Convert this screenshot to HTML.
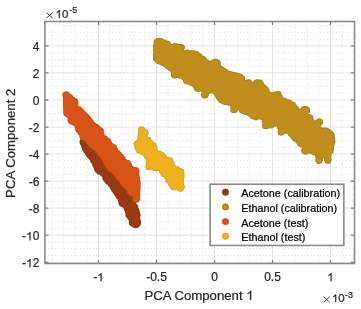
<!DOCTYPE html>
<html><head><meta charset="utf-8"><style>
html,body{margin:0;padding:0;background:#fff;}
body{width:361px;height:309px;overflow:hidden;}
text{stroke-width:0.22px;} svg{display:block;will-change:transform;font-family:"Liberation Sans",sans-serif;}
</style></head><body>
<svg width="361" height="309" viewBox="0 0 361 309">
<rect width="361" height="309" fill="#fff"/>
<path d="M52.10,21.5V263.5M63.70,21.5V263.5M75.30,21.5V263.5M86.90,21.5V263.5M110.10,21.5V263.5M121.70,21.5V263.5M133.30,21.5V263.5M144.90,21.5V263.5M168.10,21.5V263.5M179.70,21.5V263.5M191.30,21.5V263.5M202.90,21.5V263.5M226.10,21.5V263.5M237.70,21.5V263.5M249.30,21.5V263.5M260.90,21.5V263.5M284.10,21.5V263.5M295.70,21.5V263.5M307.30,21.5V263.5M318.90,21.5V263.5M342.10,21.5V263.5M44.9,255.49H354.5M44.9,248.73H354.5M44.9,241.96H354.5M44.9,228.44H354.5M44.9,221.68H354.5M44.9,214.91H354.5M44.9,201.39H354.5M44.9,194.62H354.5M44.9,187.86H354.5M44.9,174.34H354.5M44.9,167.57H354.5M44.9,160.81H354.5M44.9,147.29H354.5M44.9,140.53H354.5M44.9,133.76H354.5M44.9,120.24H354.5M44.9,113.48H354.5M44.9,106.71H354.5M44.9,93.19H354.5M44.9,86.42H354.5M44.9,79.66H354.5M44.9,66.14H354.5M44.9,59.38H354.5M44.9,52.61H354.5M44.9,39.09H354.5M44.9,32.33H354.5M44.9,25.56H354.5" stroke="#d8d8d8" stroke-width="0.8" stroke-dasharray="1,2.2" fill="none"/>
<path d="M98.50,21.5V263.5M156.50,21.5V263.5M214.50,21.5V263.5M272.50,21.5V263.5M330.50,21.5V263.5M44.9,262.25H354.5M44.9,235.20H354.5M44.9,208.15H354.5M44.9,181.10H354.5M44.9,154.05H354.5M44.9,127.00H354.5M44.9,99.95H354.5M44.9,72.90H354.5M44.9,45.85H354.5" stroke="#e4e4e4" stroke-width="1" fill="none"/>
<g fill="#85330f"><circle cx="83.3" cy="142.3" r="3.3"/><circle cx="84.0" cy="142.0" r="3.3"/><circle cx="84.0" cy="144.1" r="3.3"/><circle cx="84.6" cy="146.0" r="3.3"/><circle cx="85.2" cy="148.1" r="3.3"/><circle cx="86.5" cy="150.6" r="3.3"/><circle cx="88.3" cy="153.3" r="3.3"/><circle cx="90.0" cy="155.5" r="3.3"/><circle cx="91.7" cy="157.2" r="3.3"/><circle cx="93.4" cy="160.5" r="3.3"/><circle cx="95.5" cy="164.5" r="3.3"/><circle cx="97.0" cy="167.6" r="3.3"/><circle cx="97.7" cy="169.5" r="3.3"/><circle cx="99.6" cy="171.4" r="3.3"/><circle cx="103.3" cy="173.7" r="3.3"/><circle cx="105.6" cy="178.1" r="3.3"/><circle cx="107.0" cy="179.7" r="3.3"/><circle cx="108.4" cy="181.4" r="3.3"/><circle cx="111.1" cy="184.1" r="3.3"/><circle cx="112.9" cy="186.9" r="3.3"/><circle cx="114.3" cy="189.2" r="3.3"/><circle cx="115.8" cy="191.3" r="3.3"/><circle cx="117.4" cy="193.7" r="3.3"/><circle cx="119.1" cy="196.3" r="3.3"/><circle cx="121.0" cy="199.3" r="3.3"/><circle cx="121.8" cy="202.1" r="3.3"/><circle cx="121.9" cy="203.3" r="3.3"/><circle cx="123.0" cy="203.8" r="3.3"/><circle cx="125.7" cy="205.7" r="3.3"/><circle cx="127.1" cy="208.8" r="3.3"/><circle cx="128.3" cy="211.6" r="3.3"/><circle cx="128.8" cy="215.0" r="3.3"/><circle cx="130.4" cy="216.9" r="3.3"/><circle cx="132.0" cy="219.8" r="3.3"/><circle cx="132.2" cy="222.9" r="3.3"/><circle cx="134.3" cy="224.3" r="3.3"/><circle cx="135.8" cy="224.9" r="3.3"/><circle cx="136.2" cy="224.2" r="3.3"/><circle cx="137.2" cy="223.9" r="3.3"/><circle cx="137.8" cy="222.4" r="3.3"/><circle cx="137.1" cy="219.6" r="3.3"/><circle cx="137.3" cy="215.2" r="3.3"/><circle cx="136.7" cy="213.2" r="3.3"/><circle cx="136.1" cy="210.7" r="3.3"/><circle cx="135.0" cy="207.3" r="3.3"/><circle cx="133.1" cy="204.3" r="3.3"/><circle cx="131.5" cy="200.9" r="3.3"/><circle cx="130.0" cy="197.8" r="3.3"/><circle cx="128.5" cy="194.6" r="3.3"/><circle cx="127.2" cy="191.8" r="3.3"/><circle cx="124.9" cy="188.9" r="3.3"/><circle cx="122.4" cy="185.8" r="3.3"/><circle cx="119.9" cy="182.7" r="3.3"/><circle cx="117.4" cy="179.6" r="3.3"/><circle cx="114.9" cy="176.4" r="3.3"/><circle cx="112.4" cy="173.3" r="3.3"/><circle cx="109.9" cy="170.2" r="3.3"/><circle cx="107.5" cy="167.2" r="3.3"/><circle cx="104.8" cy="164.5" r="3.3"/><circle cx="102.0" cy="161.6" r="3.3"/><circle cx="99.1" cy="158.8" r="3.3"/><circle cx="96.2" cy="155.9" r="3.3"/><circle cx="93.4" cy="153.0" r="3.3"/><circle cx="90.5" cy="150.2" r="3.3"/><circle cx="87.7" cy="147.3" r="3.3"/><circle cx="84.7" cy="144.3" r="3.3"/><circle cx="82.8" cy="142.1" r="3.3"/></g><g fill="#983a12"><path d="M83.3,142.3 L84.0,142.0 L84.0,144.1 L84.6,146.0 L85.2,148.1 L86.5,150.6 L88.3,153.3 L90.0,155.5 L91.7,157.2 L93.4,160.5 L95.5,164.5 L97.0,167.6 L97.7,169.5 L99.6,171.4 L103.3,173.7 L105.6,178.1 L107.0,179.7 L108.4,181.4 L111.1,184.1 L112.9,186.9 L114.3,189.2 L115.8,191.3 L117.4,193.7 L119.1,196.3 L121.0,199.3 L121.8,202.1 L121.9,203.3 L123.0,203.8 L125.7,205.7 L127.1,208.8 L128.3,211.6 L128.8,215.0 L130.4,216.9 L132.0,219.8 L132.2,222.9 L134.3,224.3 L135.8,224.9 L136.2,224.2 L137.2,223.9 L137.8,222.4 L137.1,219.6 L137.3,215.2 L136.7,213.2 L136.1,210.7 L135.0,207.3 L133.1,204.3 L131.5,200.9 L130.0,197.8 L128.5,194.6 L127.2,191.8 L124.9,188.9 L122.4,185.8 L119.9,182.7 L117.4,179.6 L114.9,176.4 L112.4,173.3 L109.9,170.2 L107.5,167.2 L104.8,164.5 L102.0,161.6 L99.1,158.8 L96.2,155.9 L93.4,153.0 L90.5,150.2 L87.7,147.3 L84.7,144.3 L82.8,142.1Z"/><circle cx="83.3" cy="142.3" r="2.60"/><circle cx="84.0" cy="142.0" r="2.60"/><circle cx="84.0" cy="144.1" r="2.60"/><circle cx="84.6" cy="146.0" r="2.60"/><circle cx="85.2" cy="148.1" r="2.60"/><circle cx="86.5" cy="150.6" r="2.60"/><circle cx="88.3" cy="153.3" r="2.60"/><circle cx="90.0" cy="155.5" r="2.60"/><circle cx="91.7" cy="157.2" r="2.60"/><circle cx="93.4" cy="160.5" r="2.60"/><circle cx="95.5" cy="164.5" r="2.60"/><circle cx="97.0" cy="167.6" r="2.60"/><circle cx="97.7" cy="169.5" r="2.60"/><circle cx="99.6" cy="171.4" r="2.60"/><circle cx="103.3" cy="173.7" r="2.60"/><circle cx="105.6" cy="178.1" r="2.60"/><circle cx="107.0" cy="179.7" r="2.60"/><circle cx="108.4" cy="181.4" r="2.60"/><circle cx="111.1" cy="184.1" r="2.60"/><circle cx="112.9" cy="186.9" r="2.60"/><circle cx="114.3" cy="189.2" r="2.60"/><circle cx="115.8" cy="191.3" r="2.60"/><circle cx="117.4" cy="193.7" r="2.60"/><circle cx="119.1" cy="196.3" r="2.60"/><circle cx="121.0" cy="199.3" r="2.60"/><circle cx="121.8" cy="202.1" r="2.60"/><circle cx="121.9" cy="203.3" r="2.60"/><circle cx="123.0" cy="203.8" r="2.60"/><circle cx="125.7" cy="205.7" r="2.60"/><circle cx="127.1" cy="208.8" r="2.60"/><circle cx="128.3" cy="211.6" r="2.60"/><circle cx="128.8" cy="215.0" r="2.60"/><circle cx="130.4" cy="216.9" r="2.60"/><circle cx="132.0" cy="219.8" r="2.60"/><circle cx="132.2" cy="222.9" r="2.60"/><circle cx="134.3" cy="224.3" r="2.60"/><circle cx="135.8" cy="224.9" r="2.60"/><circle cx="136.2" cy="224.2" r="2.60"/><circle cx="137.2" cy="223.9" r="2.60"/><circle cx="137.8" cy="222.4" r="2.60"/><circle cx="137.1" cy="219.6" r="2.60"/><circle cx="137.3" cy="215.2" r="2.60"/><circle cx="136.7" cy="213.2" r="2.60"/><circle cx="136.1" cy="210.7" r="2.60"/><circle cx="135.0" cy="207.3" r="2.60"/><circle cx="133.1" cy="204.3" r="2.60"/><circle cx="131.5" cy="200.9" r="2.60"/><circle cx="130.0" cy="197.8" r="2.60"/><circle cx="128.5" cy="194.6" r="2.60"/><circle cx="127.2" cy="191.8" r="2.60"/><circle cx="124.9" cy="188.9" r="2.60"/><circle cx="122.4" cy="185.8" r="2.60"/><circle cx="119.9" cy="182.7" r="2.60"/><circle cx="117.4" cy="179.6" r="2.60"/><circle cx="114.9" cy="176.4" r="2.60"/><circle cx="112.4" cy="173.3" r="2.60"/><circle cx="109.9" cy="170.2" r="2.60"/><circle cx="107.5" cy="167.2" r="2.60"/><circle cx="104.8" cy="164.5" r="2.60"/><circle cx="102.0" cy="161.6" r="2.60"/><circle cx="99.1" cy="158.8" r="2.60"/><circle cx="96.2" cy="155.9" r="2.60"/><circle cx="93.4" cy="153.0" r="2.60"/><circle cx="90.5" cy="150.2" r="2.60"/><circle cx="87.7" cy="147.3" r="2.60"/><circle cx="84.7" cy="144.3" r="2.60"/><circle cx="82.8" cy="142.1" r="2.60"/></g>
<g fill="#a77c17"><circle cx="157.1" cy="42.2" r="3.3"/><circle cx="157.0" cy="42.0" r="3.3"/><circle cx="157.9" cy="41.3" r="3.3"/><circle cx="160.6" cy="41.3" r="3.3"/><circle cx="164.0" cy="42.8" r="3.3"/><circle cx="167.5" cy="44.1" r="3.3"/><circle cx="170.8" cy="47.0" r="3.3"/><circle cx="174.9" cy="46.2" r="3.3"/><circle cx="178.3" cy="47.0" r="3.3"/><circle cx="181.4" cy="47.5" r="3.3"/><circle cx="181.3" cy="47.5" r="3.3"/><circle cx="181.5" cy="52.6" r="3.3"/><circle cx="187.1" cy="52.7" r="3.3"/><circle cx="189.9" cy="53.5" r="3.3"/><circle cx="193.1" cy="53.5" r="3.3"/><circle cx="194.8" cy="54.0" r="3.3"/><circle cx="196.3" cy="54.4" r="3.3"/><circle cx="199.2" cy="56.6" r="3.3"/><circle cx="202.3" cy="58.8" r="3.3"/><circle cx="203.7" cy="60.3" r="3.3"/><circle cx="206.2" cy="62.5" r="3.3"/><circle cx="210.9" cy="63.7" r="3.3"/><circle cx="214.3" cy="62.7" r="3.3"/><circle cx="215.3" cy="62.1" r="3.3"/><circle cx="217.5" cy="62.8" r="3.3"/><circle cx="217.6" cy="65.1" r="3.3"/><circle cx="220.7" cy="69.1" r="3.3"/><circle cx="223.3" cy="70.9" r="3.3"/><circle cx="225.5" cy="72.2" r="3.3"/><circle cx="229.1" cy="74.0" r="3.3"/><circle cx="231.8" cy="74.7" r="3.3"/><circle cx="234.1" cy="75.3" r="3.3"/><circle cx="237.3" cy="76.1" r="3.3"/><circle cx="239.8" cy="76.7" r="3.3"/><circle cx="240.7" cy="77.8" r="3.3"/><circle cx="241.9" cy="78.9" r="3.3"/><circle cx="244.7" cy="83.2" r="3.3"/><circle cx="248.6" cy="82.6" r="3.3"/><circle cx="252.0" cy="85.0" r="3.3"/><circle cx="256.4" cy="83.4" r="3.3"/><circle cx="257.3" cy="82.6" r="3.3"/><circle cx="258.6" cy="83.1" r="3.3"/><circle cx="259.9" cy="83.0" r="3.3"/><circle cx="260.6" cy="84.3" r="3.3"/><circle cx="262.3" cy="86.5" r="3.3"/><circle cx="264.1" cy="88.2" r="3.3"/><circle cx="265.4" cy="89.5" r="3.3"/><circle cx="266.4" cy="91.3" r="3.3"/><circle cx="269.4" cy="94.7" r="3.3"/><circle cx="274.9" cy="94.8" r="3.3"/><circle cx="277.3" cy="94.8" r="3.3"/><circle cx="278.1" cy="94.4" r="3.3"/><circle cx="278.1" cy="95.2" r="3.3"/><circle cx="279.8" cy="97.9" r="3.3"/><circle cx="283.8" cy="100.8" r="3.3"/><circle cx="288.0" cy="102.6" r="3.3"/><circle cx="289.8" cy="103.6" r="3.3"/><circle cx="291.8" cy="104.8" r="3.3"/><circle cx="292.7" cy="105.3" r="3.3"/><circle cx="293.8" cy="106.8" r="3.3"/><circle cx="295.8" cy="109.4" r="3.3"/><circle cx="301.1" cy="111.6" r="3.3"/><circle cx="304.3" cy="109.4" r="3.3"/><circle cx="305.4" cy="109.4" r="3.3"/><circle cx="306.8" cy="110.5" r="3.3"/><circle cx="306.8" cy="110.4" r="3.3"/><circle cx="304.2" cy="114.1" r="3.3"/><circle cx="308.7" cy="117.2" r="3.3"/><circle cx="310.1" cy="117.9" r="3.3"/><circle cx="311.0" cy="121.6" r="3.3"/><circle cx="316.6" cy="123.3" r="3.3"/><circle cx="319.2" cy="121.8" r="3.3"/><circle cx="319.5" cy="122.6" r="3.3"/><circle cx="319.5" cy="121.7" r="3.3"/><circle cx="317.9" cy="124.4" r="3.3"/><circle cx="319.7" cy="130.1" r="3.3"/><circle cx="324.3" cy="130.9" r="3.3"/><circle cx="325.9" cy="130.8" r="3.3"/><circle cx="327.5" cy="131.8" r="3.3"/><circle cx="329.3" cy="132.8" r="3.3"/><circle cx="330.5" cy="134.2" r="3.3"/><circle cx="331.5" cy="135.2" r="3.3"/><circle cx="331.9" cy="138.3" r="3.3"/><circle cx="332.1" cy="141.5" r="3.3"/><circle cx="331.3" cy="144.4" r="3.3"/><circle cx="330.9" cy="147.5" r="3.3"/><circle cx="330.4" cy="151.1" r="3.3"/><circle cx="328.3" cy="155.2" r="3.3"/><circle cx="328.3" cy="159.2" r="3.3"/><circle cx="327.9" cy="160.3" r="3.3"/><circle cx="327.9" cy="160.5" r="3.3"/><circle cx="327.4" cy="158.8" r="3.3"/><circle cx="322.8" cy="155.3" r="3.3"/><circle cx="319.7" cy="159.3" r="3.3"/><circle cx="319.0" cy="160.5" r="3.3"/><circle cx="319.0" cy="160.6" r="3.3"/><circle cx="318.9" cy="159.9" r="3.3"/><circle cx="318.1" cy="155.4" r="3.3"/><circle cx="314.1" cy="152.1" r="3.3"/><circle cx="309.9" cy="150.5" r="3.3"/><circle cx="306.5" cy="150.9" r="3.3"/><circle cx="305.5" cy="151.4" r="3.3"/><circle cx="305.2" cy="150.6" r="3.3"/><circle cx="304.5" cy="150.8" r="3.3"/><circle cx="305.3" cy="147.3" r="3.3"/><circle cx="301.8" cy="144.2" r="3.3"/><circle cx="300.4" cy="143.4" r="3.3"/><circle cx="298.8" cy="140.9" r="3.3"/><circle cx="295.4" cy="138.4" r="3.3"/><circle cx="294.3" cy="137.0" r="3.3"/><circle cx="292.8" cy="135.2" r="3.3"/><circle cx="291.1" cy="133.5" r="3.3"/><circle cx="288.2" cy="131.0" r="3.3"/><circle cx="283.0" cy="130.9" r="3.3"/><circle cx="281.1" cy="132.4" r="3.3"/><circle cx="281.1" cy="131.6" r="3.3"/><circle cx="281.1" cy="130.4" r="3.3"/><circle cx="280.1" cy="126.6" r="3.3"/><circle cx="274.9" cy="123.5" r="3.3"/><circle cx="270.9" cy="125.3" r="3.3"/><circle cx="268.1" cy="125.2" r="3.3"/><circle cx="265.7" cy="126.0" r="3.3"/><circle cx="265.5" cy="125.8" r="3.3"/><circle cx="265.7" cy="124.7" r="3.3"/><circle cx="265.0" cy="121.3" r="3.3"/><circle cx="260.7" cy="116.5" r="3.3"/><circle cx="255.8" cy="117.1" r="3.3"/><circle cx="253.1" cy="115.9" r="3.3"/><circle cx="250.0" cy="113.5" r="3.3"/><circle cx="246.2" cy="111.6" r="3.3"/><circle cx="244.9" cy="111.5" r="3.3"/><circle cx="242.2" cy="110.2" r="3.3"/><circle cx="237.2" cy="107.3" r="3.3"/><circle cx="233.5" cy="109.7" r="3.3"/><circle cx="234.4" cy="109.7" r="3.3"/><circle cx="233.6" cy="105.7" r="3.3"/><circle cx="229.5" cy="102.6" r="3.3"/><circle cx="225.3" cy="101.7" r="3.3"/><circle cx="223.3" cy="100.7" r="3.3"/><circle cx="221.4" cy="99.9" r="3.3"/><circle cx="220.4" cy="98.4" r="3.3"/><circle cx="218.9" cy="96.6" r="3.3"/><circle cx="217.8" cy="94.8" r="3.3"/><circle cx="215.2" cy="91.4" r="3.3"/><circle cx="208.9" cy="90.8" r="3.3"/><circle cx="205.7" cy="93.5" r="3.3"/><circle cx="204.4" cy="95.0" r="3.3"/><circle cx="204.9" cy="95.1" r="3.3"/><circle cx="204.9" cy="95.2" r="3.3"/><circle cx="204.8" cy="94.3" r="3.3"/><circle cx="203.3" cy="89.0" r="3.3"/><circle cx="198.5" cy="88.7" r="3.3"/><circle cx="197.0" cy="88.0" r="3.3"/><circle cx="195.5" cy="84.9" r="3.3"/><circle cx="192.1" cy="82.9" r="3.3"/><circle cx="189.3" cy="81.5" r="3.3"/><circle cx="186.7" cy="81.0" r="3.3"/><circle cx="186.3" cy="79.9" r="3.3"/><circle cx="184.2" cy="77.3" r="3.3"/><circle cx="180.3" cy="75.4" r="3.3"/><circle cx="176.6" cy="74.4" r="3.3"/><circle cx="174.6" cy="75.2" r="3.3"/><circle cx="174.4" cy="75.1" r="3.3"/><circle cx="173.9" cy="72.2" r="3.3"/><circle cx="170.9" cy="68.3" r="3.3"/><circle cx="168.5" cy="66.3" r="3.3"/><circle cx="166.1" cy="64.4" r="3.3"/><circle cx="162.7" cy="62.6" r="3.3"/><circle cx="160.2" cy="61.4" r="3.3"/><circle cx="158.4" cy="60.7" r="3.3"/><circle cx="156.4" cy="58.4" r="3.3"/><circle cx="156.5" cy="56.9" r="3.3"/><circle cx="156.4" cy="54.2" r="3.3"/><circle cx="156.4" cy="50.2" r="3.3"/><circle cx="156.4" cy="46.4" r="3.3"/><circle cx="156.8" cy="44.3" r="3.3"/></g><g fill="#be8d1b"><path d="M157.1,42.2 L157.0,42.0 L157.9,41.3 L160.6,41.3 L164.0,42.8 L167.5,44.1 L170.8,47.0 L174.9,46.2 L178.3,47.0 L181.4,47.5 L181.3,47.5 L181.5,52.6 L187.1,52.7 L189.9,53.5 L193.1,53.5 L194.8,54.0 L196.3,54.4 L199.2,56.6 L202.3,58.8 L203.7,60.3 L206.2,62.5 L210.9,63.7 L214.3,62.7 L215.3,62.1 L217.5,62.8 L217.6,65.1 L220.7,69.1 L223.3,70.9 L225.5,72.2 L229.1,74.0 L231.8,74.7 L234.1,75.3 L237.3,76.1 L239.8,76.7 L240.7,77.8 L241.9,78.9 L244.7,83.2 L248.6,82.6 L252.0,85.0 L256.4,83.4 L257.3,82.6 L258.6,83.1 L259.9,83.0 L260.6,84.3 L262.3,86.5 L264.1,88.2 L265.4,89.5 L266.4,91.3 L269.4,94.7 L274.9,94.8 L277.3,94.8 L278.1,94.4 L278.1,95.2 L279.8,97.9 L283.8,100.8 L288.0,102.6 L289.8,103.6 L291.8,104.8 L292.7,105.3 L293.8,106.8 L295.8,109.4 L301.1,111.6 L304.3,109.4 L305.4,109.4 L306.8,110.5 L306.8,110.4 L304.2,114.1 L308.7,117.2 L310.1,117.9 L311.0,121.6 L316.6,123.3 L319.2,121.8 L319.5,122.6 L319.5,121.7 L317.9,124.4 L319.7,130.1 L324.3,130.9 L325.9,130.8 L327.5,131.8 L329.3,132.8 L330.5,134.2 L331.5,135.2 L331.9,138.3 L332.1,141.5 L331.3,144.4 L330.9,147.5 L330.4,151.1 L328.3,155.2 L328.3,159.2 L327.9,160.3 L327.9,160.5 L327.4,158.8 L322.8,155.3 L319.7,159.3 L319.0,160.5 L319.0,160.6 L318.9,159.9 L318.1,155.4 L314.1,152.1 L309.9,150.5 L306.5,150.9 L305.5,151.4 L305.2,150.6 L304.5,150.8 L305.3,147.3 L301.8,144.2 L300.4,143.4 L298.8,140.9 L295.4,138.4 L294.3,137.0 L292.8,135.2 L291.1,133.5 L288.2,131.0 L283.0,130.9 L281.1,132.4 L281.1,131.6 L281.1,130.4 L280.1,126.6 L274.9,123.5 L270.9,125.3 L268.1,125.2 L265.7,126.0 L265.5,125.8 L265.7,124.7 L265.0,121.3 L260.7,116.5 L255.8,117.1 L253.1,115.9 L250.0,113.5 L246.2,111.6 L244.9,111.5 L242.2,110.2 L237.2,107.3 L233.5,109.7 L234.4,109.7 L233.6,105.7 L229.5,102.6 L225.3,101.7 L223.3,100.7 L221.4,99.9 L220.4,98.4 L218.9,96.6 L217.8,94.8 L215.2,91.4 L208.9,90.8 L205.7,93.5 L204.4,95.0 L204.9,95.1 L204.9,95.2 L204.8,94.3 L203.3,89.0 L198.5,88.7 L197.0,88.0 L195.5,84.9 L192.1,82.9 L189.3,81.5 L186.7,81.0 L186.3,79.9 L184.2,77.3 L180.3,75.4 L176.6,74.4 L174.6,75.2 L174.4,75.1 L173.9,72.2 L170.9,68.3 L168.5,66.3 L166.1,64.4 L162.7,62.6 L160.2,61.4 L158.4,60.7 L156.4,58.4 L156.5,56.9 L156.4,54.2 L156.4,50.2 L156.4,46.4 L156.8,44.3Z"/><circle cx="157.1" cy="42.2" r="2.60"/><circle cx="157.0" cy="42.0" r="2.60"/><circle cx="157.9" cy="41.3" r="2.60"/><circle cx="160.6" cy="41.3" r="2.60"/><circle cx="164.0" cy="42.8" r="2.60"/><circle cx="167.5" cy="44.1" r="2.60"/><circle cx="170.8" cy="47.0" r="2.60"/><circle cx="174.9" cy="46.2" r="2.60"/><circle cx="178.3" cy="47.0" r="2.60"/><circle cx="181.4" cy="47.5" r="2.60"/><circle cx="181.3" cy="47.5" r="2.60"/><circle cx="181.5" cy="52.6" r="2.60"/><circle cx="187.1" cy="52.7" r="2.60"/><circle cx="189.9" cy="53.5" r="2.60"/><circle cx="193.1" cy="53.5" r="2.60"/><circle cx="194.8" cy="54.0" r="2.60"/><circle cx="196.3" cy="54.4" r="2.60"/><circle cx="199.2" cy="56.6" r="2.60"/><circle cx="202.3" cy="58.8" r="2.60"/><circle cx="203.7" cy="60.3" r="2.60"/><circle cx="206.2" cy="62.5" r="2.60"/><circle cx="210.9" cy="63.7" r="2.60"/><circle cx="214.3" cy="62.7" r="2.60"/><circle cx="215.3" cy="62.1" r="2.60"/><circle cx="217.5" cy="62.8" r="2.60"/><circle cx="217.6" cy="65.1" r="2.60"/><circle cx="220.7" cy="69.1" r="2.60"/><circle cx="223.3" cy="70.9" r="2.60"/><circle cx="225.5" cy="72.2" r="2.60"/><circle cx="229.1" cy="74.0" r="2.60"/><circle cx="231.8" cy="74.7" r="2.60"/><circle cx="234.1" cy="75.3" r="2.60"/><circle cx="237.3" cy="76.1" r="2.60"/><circle cx="239.8" cy="76.7" r="2.60"/><circle cx="240.7" cy="77.8" r="2.60"/><circle cx="241.9" cy="78.9" r="2.60"/><circle cx="244.7" cy="83.2" r="2.60"/><circle cx="248.6" cy="82.6" r="2.60"/><circle cx="252.0" cy="85.0" r="2.60"/><circle cx="256.4" cy="83.4" r="2.60"/><circle cx="257.3" cy="82.6" r="2.60"/><circle cx="258.6" cy="83.1" r="2.60"/><circle cx="259.9" cy="83.0" r="2.60"/><circle cx="260.6" cy="84.3" r="2.60"/><circle cx="262.3" cy="86.5" r="2.60"/><circle cx="264.1" cy="88.2" r="2.60"/><circle cx="265.4" cy="89.5" r="2.60"/><circle cx="266.4" cy="91.3" r="2.60"/><circle cx="269.4" cy="94.7" r="2.60"/><circle cx="274.9" cy="94.8" r="2.60"/><circle cx="277.3" cy="94.8" r="2.60"/><circle cx="278.1" cy="94.4" r="2.60"/><circle cx="278.1" cy="95.2" r="2.60"/><circle cx="279.8" cy="97.9" r="2.60"/><circle cx="283.8" cy="100.8" r="2.60"/><circle cx="288.0" cy="102.6" r="2.60"/><circle cx="289.8" cy="103.6" r="2.60"/><circle cx="291.8" cy="104.8" r="2.60"/><circle cx="292.7" cy="105.3" r="2.60"/><circle cx="293.8" cy="106.8" r="2.60"/><circle cx="295.8" cy="109.4" r="2.60"/><circle cx="301.1" cy="111.6" r="2.60"/><circle cx="304.3" cy="109.4" r="2.60"/><circle cx="305.4" cy="109.4" r="2.60"/><circle cx="306.8" cy="110.5" r="2.60"/><circle cx="306.8" cy="110.4" r="2.60"/><circle cx="304.2" cy="114.1" r="2.60"/><circle cx="308.7" cy="117.2" r="2.60"/><circle cx="310.1" cy="117.9" r="2.60"/><circle cx="311.0" cy="121.6" r="2.60"/><circle cx="316.6" cy="123.3" r="2.60"/><circle cx="319.2" cy="121.8" r="2.60"/><circle cx="319.5" cy="122.6" r="2.60"/><circle cx="319.5" cy="121.7" r="2.60"/><circle cx="317.9" cy="124.4" r="2.60"/><circle cx="319.7" cy="130.1" r="2.60"/><circle cx="324.3" cy="130.9" r="2.60"/><circle cx="325.9" cy="130.8" r="2.60"/><circle cx="327.5" cy="131.8" r="2.60"/><circle cx="329.3" cy="132.8" r="2.60"/><circle cx="330.5" cy="134.2" r="2.60"/><circle cx="331.5" cy="135.2" r="2.60"/><circle cx="331.9" cy="138.3" r="2.60"/><circle cx="332.1" cy="141.5" r="2.60"/><circle cx="331.3" cy="144.4" r="2.60"/><circle cx="330.9" cy="147.5" r="2.60"/><circle cx="330.4" cy="151.1" r="2.60"/><circle cx="328.3" cy="155.2" r="2.60"/><circle cx="328.3" cy="159.2" r="2.60"/><circle cx="327.9" cy="160.3" r="2.60"/><circle cx="327.9" cy="160.5" r="2.60"/><circle cx="327.4" cy="158.8" r="2.60"/><circle cx="322.8" cy="155.3" r="2.60"/><circle cx="319.7" cy="159.3" r="2.60"/><circle cx="319.0" cy="160.5" r="2.60"/><circle cx="319.0" cy="160.6" r="2.60"/><circle cx="318.9" cy="159.9" r="2.60"/><circle cx="318.1" cy="155.4" r="2.60"/><circle cx="314.1" cy="152.1" r="2.60"/><circle cx="309.9" cy="150.5" r="2.60"/><circle cx="306.5" cy="150.9" r="2.60"/><circle cx="305.5" cy="151.4" r="2.60"/><circle cx="305.2" cy="150.6" r="2.60"/><circle cx="304.5" cy="150.8" r="2.60"/><circle cx="305.3" cy="147.3" r="2.60"/><circle cx="301.8" cy="144.2" r="2.60"/><circle cx="300.4" cy="143.4" r="2.60"/><circle cx="298.8" cy="140.9" r="2.60"/><circle cx="295.4" cy="138.4" r="2.60"/><circle cx="294.3" cy="137.0" r="2.60"/><circle cx="292.8" cy="135.2" r="2.60"/><circle cx="291.1" cy="133.5" r="2.60"/><circle cx="288.2" cy="131.0" r="2.60"/><circle cx="283.0" cy="130.9" r="2.60"/><circle cx="281.1" cy="132.4" r="2.60"/><circle cx="281.1" cy="131.6" r="2.60"/><circle cx="281.1" cy="130.4" r="2.60"/><circle cx="280.1" cy="126.6" r="2.60"/><circle cx="274.9" cy="123.5" r="2.60"/><circle cx="270.9" cy="125.3" r="2.60"/><circle cx="268.1" cy="125.2" r="2.60"/><circle cx="265.7" cy="126.0" r="2.60"/><circle cx="265.5" cy="125.8" r="2.60"/><circle cx="265.7" cy="124.7" r="2.60"/><circle cx="265.0" cy="121.3" r="2.60"/><circle cx="260.7" cy="116.5" r="2.60"/><circle cx="255.8" cy="117.1" r="2.60"/><circle cx="253.1" cy="115.9" r="2.60"/><circle cx="250.0" cy="113.5" r="2.60"/><circle cx="246.2" cy="111.6" r="2.60"/><circle cx="244.9" cy="111.5" r="2.60"/><circle cx="242.2" cy="110.2" r="2.60"/><circle cx="237.2" cy="107.3" r="2.60"/><circle cx="233.5" cy="109.7" r="2.60"/><circle cx="234.4" cy="109.7" r="2.60"/><circle cx="233.6" cy="105.7" r="2.60"/><circle cx="229.5" cy="102.6" r="2.60"/><circle cx="225.3" cy="101.7" r="2.60"/><circle cx="223.3" cy="100.7" r="2.60"/><circle cx="221.4" cy="99.9" r="2.60"/><circle cx="220.4" cy="98.4" r="2.60"/><circle cx="218.9" cy="96.6" r="2.60"/><circle cx="217.8" cy="94.8" r="2.60"/><circle cx="215.2" cy="91.4" r="2.60"/><circle cx="208.9" cy="90.8" r="2.60"/><circle cx="205.7" cy="93.5" r="2.60"/><circle cx="204.4" cy="95.0" r="2.60"/><circle cx="204.9" cy="95.1" r="2.60"/><circle cx="204.9" cy="95.2" r="2.60"/><circle cx="204.8" cy="94.3" r="2.60"/><circle cx="203.3" cy="89.0" r="2.60"/><circle cx="198.5" cy="88.7" r="2.60"/><circle cx="197.0" cy="88.0" r="2.60"/><circle cx="195.5" cy="84.9" r="2.60"/><circle cx="192.1" cy="82.9" r="2.60"/><circle cx="189.3" cy="81.5" r="2.60"/><circle cx="186.7" cy="81.0" r="2.60"/><circle cx="186.3" cy="79.9" r="2.60"/><circle cx="184.2" cy="77.3" r="2.60"/><circle cx="180.3" cy="75.4" r="2.60"/><circle cx="176.6" cy="74.4" r="2.60"/><circle cx="174.6" cy="75.2" r="2.60"/><circle cx="174.4" cy="75.1" r="2.60"/><circle cx="173.9" cy="72.2" r="2.60"/><circle cx="170.9" cy="68.3" r="2.60"/><circle cx="168.5" cy="66.3" r="2.60"/><circle cx="166.1" cy="64.4" r="2.60"/><circle cx="162.7" cy="62.6" r="2.60"/><circle cx="160.2" cy="61.4" r="2.60"/><circle cx="158.4" cy="60.7" r="2.60"/><circle cx="156.4" cy="58.4" r="2.60"/><circle cx="156.5" cy="56.9" r="2.60"/><circle cx="156.4" cy="54.2" r="2.60"/><circle cx="156.4" cy="50.2" r="2.60"/><circle cx="156.4" cy="46.4" r="2.60"/><circle cx="156.8" cy="44.3" r="2.60"/></g>
<g fill="#be4916"><circle cx="66.4" cy="94.5" r="3.3"/><circle cx="66.9" cy="95.6" r="3.3"/><circle cx="69.8" cy="97.3" r="3.3"/><circle cx="72.2" cy="99.8" r="3.3"/><circle cx="74.5" cy="101.4" r="3.3"/><circle cx="75.1" cy="102.5" r="3.3"/><circle cx="75.3" cy="106.5" r="3.3"/><circle cx="78.7" cy="109.5" r="3.3"/><circle cx="80.5" cy="111.3" r="3.3"/><circle cx="82.5" cy="113.2" r="3.3"/><circle cx="84.4" cy="115.2" r="3.3"/><circle cx="86.3" cy="117.0" r="3.3"/><circle cx="87.7" cy="118.8" r="3.3"/><circle cx="89.3" cy="120.8" r="3.3"/><circle cx="90.9" cy="122.7" r="3.3"/><circle cx="92.8" cy="125.0" r="3.3"/><circle cx="95.8" cy="127.1" r="3.3"/><circle cx="97.6" cy="128.7" r="3.3"/><circle cx="99.5" cy="130.2" r="3.3"/><circle cx="100.6" cy="131.1" r="3.3"/><circle cx="101.2" cy="134.5" r="3.3"/><circle cx="104.5" cy="138.5" r="3.3"/><circle cx="107.6" cy="141.1" r="3.3"/><circle cx="108.5" cy="142.7" r="3.3"/><circle cx="110.3" cy="145.5" r="3.3"/><circle cx="112.7" cy="147.3" r="3.3"/><circle cx="113.8" cy="147.8" r="3.3"/><circle cx="115.0" cy="150.8" r="3.3"/><circle cx="117.0" cy="153.0" r="3.3"/><circle cx="118.6" cy="154.6" r="3.3"/><circle cx="120.4" cy="156.8" r="3.3"/><circle cx="122.2" cy="158.8" r="3.3"/><circle cx="124.6" cy="162.3" r="3.3"/><circle cx="127.6" cy="163.3" r="3.3"/><circle cx="128.8" cy="165.4" r="3.3"/><circle cx="131.4" cy="169.1" r="3.3"/><circle cx="134.8" cy="170.4" r="3.3"/><circle cx="136.0" cy="170.9" r="3.3"/><circle cx="136.1" cy="173.7" r="3.3"/><circle cx="136.5" cy="177.6" r="3.3"/><circle cx="136.9" cy="180.1" r="3.3"/><circle cx="137.3" cy="182.2" r="3.3"/><circle cx="137.3" cy="184.9" r="3.3"/><circle cx="137.3" cy="187.7" r="3.3"/><circle cx="137.1" cy="190.6" r="3.3"/><circle cx="136.9" cy="193.6" r="3.3"/><circle cx="136.8" cy="196.1" r="3.3"/><circle cx="136.0" cy="198.8" r="3.3"/><circle cx="136.0" cy="199.4" r="3.3"/><circle cx="136.8" cy="198.8" r="3.3"/><circle cx="135.4" cy="196.1" r="3.3"/><circle cx="132.7" cy="193.7" r="3.3"/><circle cx="130.7" cy="192.0" r="3.3"/><circle cx="129.7" cy="190.4" r="3.3"/><circle cx="128.2" cy="188.2" r="3.3"/><circle cx="125.3" cy="185.3" r="3.3"/><circle cx="124.2" cy="183.7" r="3.3"/><circle cx="122.8" cy="181.7" r="3.3"/><circle cx="120.8" cy="179.3" r="3.3"/><circle cx="119.0" cy="177.1" r="3.3"/><circle cx="117.4" cy="174.9" r="3.3"/><circle cx="115.4" cy="172.3" r="3.3"/><circle cx="112.5" cy="170.0" r="3.3"/><circle cx="110.3" cy="168.4" r="3.3"/><circle cx="108.3" cy="165.7" r="3.3"/><circle cx="106.4" cy="162.5" r="3.3"/><circle cx="105.5" cy="160.4" r="3.3"/><circle cx="104.3" cy="157.8" r="3.3"/><circle cx="102.5" cy="155.6" r="3.3"/><circle cx="101.0" cy="153.9" r="3.3"/><circle cx="99.5" cy="152.1" r="3.3"/><circle cx="97.9" cy="150.2" r="3.3"/><circle cx="95.0" cy="147.4" r="3.3"/><circle cx="91.7" cy="145.0" r="3.3"/><circle cx="90.7" cy="143.6" r="3.3"/><circle cx="89.1" cy="141.4" r="3.3"/><circle cx="85.6" cy="138.0" r="3.3"/><circle cx="83.2" cy="137.1" r="3.3"/><circle cx="82.6" cy="136.1" r="3.3"/><circle cx="80.7" cy="132.3" r="3.3"/><circle cx="79.4" cy="130.2" r="3.3"/><circle cx="78.4" cy="128.7" r="3.3"/><circle cx="77.8" cy="126.4" r="3.3"/><circle cx="74.9" cy="122.8" r="3.3"/><circle cx="71.7" cy="121.5" r="3.3"/><circle cx="70.9" cy="120.3" r="3.3"/><circle cx="70.0" cy="116.0" r="3.3"/><circle cx="67.1" cy="113.8" r="3.3"/><circle cx="66.6" cy="112.7" r="3.3"/><circle cx="66.6" cy="110.3" r="3.3"/><circle cx="66.4" cy="107.3" r="3.3"/><circle cx="66.3" cy="104.3" r="3.3"/><circle cx="66.3" cy="101.2" r="3.3"/><circle cx="66.3" cy="98.0" r="3.3"/><circle cx="66.3" cy="95.7" r="3.3"/><circle cx="65.7" cy="95.2" r="3.3"/></g><g fill="#d95319"><path d="M66.4,94.5 L66.9,95.6 L69.8,97.3 L72.2,99.8 L74.5,101.4 L75.1,102.5 L75.3,106.5 L78.7,109.5 L80.5,111.3 L82.5,113.2 L84.4,115.2 L86.3,117.0 L87.7,118.8 L89.3,120.8 L90.9,122.7 L92.8,125.0 L95.8,127.1 L97.6,128.7 L99.5,130.2 L100.6,131.1 L101.2,134.5 L104.5,138.5 L107.6,141.1 L108.5,142.7 L110.3,145.5 L112.7,147.3 L113.8,147.8 L115.0,150.8 L117.0,153.0 L118.6,154.6 L120.4,156.8 L122.2,158.8 L124.6,162.3 L127.6,163.3 L128.8,165.4 L131.4,169.1 L134.8,170.4 L136.0,170.9 L136.1,173.7 L136.5,177.6 L136.9,180.1 L137.3,182.2 L137.3,184.9 L137.3,187.7 L137.1,190.6 L136.9,193.6 L136.8,196.1 L136.0,198.8 L136.0,199.4 L136.8,198.8 L135.4,196.1 L132.7,193.7 L130.7,192.0 L129.7,190.4 L128.2,188.2 L125.3,185.3 L124.2,183.7 L122.8,181.7 L120.8,179.3 L119.0,177.1 L117.4,174.9 L115.4,172.3 L112.5,170.0 L110.3,168.4 L108.3,165.7 L106.4,162.5 L105.5,160.4 L104.3,157.8 L102.5,155.6 L101.0,153.9 L99.5,152.1 L97.9,150.2 L95.0,147.4 L91.7,145.0 L90.7,143.6 L89.1,141.4 L85.6,138.0 L83.2,137.1 L82.6,136.1 L80.7,132.3 L79.4,130.2 L78.4,128.7 L77.8,126.4 L74.9,122.8 L71.7,121.5 L70.9,120.3 L70.0,116.0 L67.1,113.8 L66.6,112.7 L66.6,110.3 L66.4,107.3 L66.3,104.3 L66.3,101.2 L66.3,98.0 L66.3,95.7 L65.7,95.2Z"/><circle cx="66.4" cy="94.5" r="2.60"/><circle cx="66.9" cy="95.6" r="2.60"/><circle cx="69.8" cy="97.3" r="2.60"/><circle cx="72.2" cy="99.8" r="2.60"/><circle cx="74.5" cy="101.4" r="2.60"/><circle cx="75.1" cy="102.5" r="2.60"/><circle cx="75.3" cy="106.5" r="2.60"/><circle cx="78.7" cy="109.5" r="2.60"/><circle cx="80.5" cy="111.3" r="2.60"/><circle cx="82.5" cy="113.2" r="2.60"/><circle cx="84.4" cy="115.2" r="2.60"/><circle cx="86.3" cy="117.0" r="2.60"/><circle cx="87.7" cy="118.8" r="2.60"/><circle cx="89.3" cy="120.8" r="2.60"/><circle cx="90.9" cy="122.7" r="2.60"/><circle cx="92.8" cy="125.0" r="2.60"/><circle cx="95.8" cy="127.1" r="2.60"/><circle cx="97.6" cy="128.7" r="2.60"/><circle cx="99.5" cy="130.2" r="2.60"/><circle cx="100.6" cy="131.1" r="2.60"/><circle cx="101.2" cy="134.5" r="2.60"/><circle cx="104.5" cy="138.5" r="2.60"/><circle cx="107.6" cy="141.1" r="2.60"/><circle cx="108.5" cy="142.7" r="2.60"/><circle cx="110.3" cy="145.5" r="2.60"/><circle cx="112.7" cy="147.3" r="2.60"/><circle cx="113.8" cy="147.8" r="2.60"/><circle cx="115.0" cy="150.8" r="2.60"/><circle cx="117.0" cy="153.0" r="2.60"/><circle cx="118.6" cy="154.6" r="2.60"/><circle cx="120.4" cy="156.8" r="2.60"/><circle cx="122.2" cy="158.8" r="2.60"/><circle cx="124.6" cy="162.3" r="2.60"/><circle cx="127.6" cy="163.3" r="2.60"/><circle cx="128.8" cy="165.4" r="2.60"/><circle cx="131.4" cy="169.1" r="2.60"/><circle cx="134.8" cy="170.4" r="2.60"/><circle cx="136.0" cy="170.9" r="2.60"/><circle cx="136.1" cy="173.7" r="2.60"/><circle cx="136.5" cy="177.6" r="2.60"/><circle cx="136.9" cy="180.1" r="2.60"/><circle cx="137.3" cy="182.2" r="2.60"/><circle cx="137.3" cy="184.9" r="2.60"/><circle cx="137.3" cy="187.7" r="2.60"/><circle cx="137.1" cy="190.6" r="2.60"/><circle cx="136.9" cy="193.6" r="2.60"/><circle cx="136.8" cy="196.1" r="2.60"/><circle cx="136.0" cy="198.8" r="2.60"/><circle cx="136.0" cy="199.4" r="2.60"/><circle cx="136.8" cy="198.8" r="2.60"/><circle cx="135.4" cy="196.1" r="2.60"/><circle cx="132.7" cy="193.7" r="2.60"/><circle cx="130.7" cy="192.0" r="2.60"/><circle cx="129.7" cy="190.4" r="2.60"/><circle cx="128.2" cy="188.2" r="2.60"/><circle cx="125.3" cy="185.3" r="2.60"/><circle cx="124.2" cy="183.7" r="2.60"/><circle cx="122.8" cy="181.7" r="2.60"/><circle cx="120.8" cy="179.3" r="2.60"/><circle cx="119.0" cy="177.1" r="2.60"/><circle cx="117.4" cy="174.9" r="2.60"/><circle cx="115.4" cy="172.3" r="2.60"/><circle cx="112.5" cy="170.0" r="2.60"/><circle cx="110.3" cy="168.4" r="2.60"/><circle cx="108.3" cy="165.7" r="2.60"/><circle cx="106.4" cy="162.5" r="2.60"/><circle cx="105.5" cy="160.4" r="2.60"/><circle cx="104.3" cy="157.8" r="2.60"/><circle cx="102.5" cy="155.6" r="2.60"/><circle cx="101.0" cy="153.9" r="2.60"/><circle cx="99.5" cy="152.1" r="2.60"/><circle cx="97.9" cy="150.2" r="2.60"/><circle cx="95.0" cy="147.4" r="2.60"/><circle cx="91.7" cy="145.0" r="2.60"/><circle cx="90.7" cy="143.6" r="2.60"/><circle cx="89.1" cy="141.4" r="2.60"/><circle cx="85.6" cy="138.0" r="2.60"/><circle cx="83.2" cy="137.1" r="2.60"/><circle cx="82.6" cy="136.1" r="2.60"/><circle cx="80.7" cy="132.3" r="2.60"/><circle cx="79.4" cy="130.2" r="2.60"/><circle cx="78.4" cy="128.7" r="2.60"/><circle cx="77.8" cy="126.4" r="2.60"/><circle cx="74.9" cy="122.8" r="2.60"/><circle cx="71.7" cy="121.5" r="2.60"/><circle cx="70.9" cy="120.3" r="2.60"/><circle cx="70.0" cy="116.0" r="2.60"/><circle cx="67.1" cy="113.8" r="2.60"/><circle cx="66.6" cy="112.7" r="2.60"/><circle cx="66.6" cy="110.3" r="2.60"/><circle cx="66.4" cy="107.3" r="2.60"/><circle cx="66.3" cy="104.3" r="2.60"/><circle cx="66.3" cy="101.2" r="2.60"/><circle cx="66.3" cy="98.0" r="2.60"/><circle cx="66.3" cy="95.7" r="2.60"/><circle cx="65.7" cy="95.2" r="2.60"/></g>
<g fill="#d09b1c"><circle cx="141.6" cy="129.8" r="3.3"/><circle cx="142.4" cy="130.5" r="3.3"/><circle cx="144.9" cy="132.6" r="3.3"/><circle cx="145.4" cy="132.9" r="3.3"/><circle cx="144.3" cy="137.2" r="3.3"/><circle cx="148.0" cy="140.0" r="3.3"/><circle cx="149.9" cy="142.7" r="3.3"/><circle cx="152.9" cy="145.3" r="3.3"/><circle cx="154.1" cy="147.5" r="3.3"/><circle cx="154.8" cy="151.3" r="3.3"/><circle cx="159.0" cy="153.9" r="3.3"/><circle cx="161.8" cy="155.2" r="3.3"/><circle cx="164.0" cy="157.7" r="3.3"/><circle cx="167.4" cy="160.3" r="3.3"/><circle cx="169.7" cy="160.6" r="3.3"/><circle cx="170.3" cy="161.7" r="3.3"/><circle cx="171.5" cy="164.9" r="3.3"/><circle cx="173.4" cy="167.8" r="3.3"/><circle cx="176.1" cy="169.4" r="3.3"/><circle cx="178.1" cy="170.6" r="3.3"/><circle cx="180.1" cy="171.8" r="3.3"/><circle cx="181.0" cy="171.9" r="3.3"/><circle cx="180.9" cy="173.5" r="3.3"/><circle cx="181.3" cy="175.9" r="3.3"/><circle cx="180.9" cy="178.7" r="3.3"/><circle cx="180.5" cy="182.4" r="3.3"/><circle cx="180.9" cy="185.7" r="3.3"/><circle cx="181.5" cy="187.0" r="3.3"/><circle cx="180.5" cy="188.5" r="3.3"/><circle cx="180.0" cy="188.1" r="3.3"/><circle cx="177.1" cy="186.3" r="3.3"/><circle cx="174.1" cy="187.3" r="3.3"/><circle cx="172.6" cy="185.9" r="3.3"/><circle cx="171.2" cy="182.9" r="3.3"/><circle cx="168.8" cy="180.6" r="3.3"/><circle cx="167.1" cy="176.3" r="3.3"/><circle cx="163.7" cy="173.8" r="3.3"/><circle cx="162.1" cy="170.6" r="3.3"/><circle cx="158.0" cy="167.8" r="3.3"/><circle cx="154.8" cy="167.8" r="3.3"/><circle cx="152.0" cy="166.1" r="3.3"/><circle cx="149.1" cy="167.0" r="3.3"/><circle cx="148.8" cy="166.5" r="3.3"/><circle cx="149.0" cy="164.6" r="3.3"/><circle cx="148.9" cy="160.0" r="3.3"/><circle cx="146.8" cy="155.8" r="3.3"/><circle cx="143.2" cy="152.2" r="3.3"/><circle cx="139.5" cy="150.4" r="3.3"/><circle cx="138.4" cy="148.4" r="3.3"/><circle cx="137.4" cy="146.4" r="3.3"/><circle cx="137.0" cy="144.0" r="3.3"/><circle cx="138.0" cy="143.5" r="3.3"/><circle cx="140.1" cy="140.7" r="3.3"/><circle cx="140.7" cy="137.2" r="3.3"/><circle cx="141.0" cy="134.6" r="3.3"/><circle cx="141.3" cy="131.1" r="3.3"/><circle cx="141.5" cy="130.0" r="3.3"/></g><g fill="#edb120"><path d="M141.6,129.8 L142.4,130.5 L144.9,132.6 L145.4,132.9 L144.3,137.2 L148.0,140.0 L149.9,142.7 L152.9,145.3 L154.1,147.5 L154.8,151.3 L159.0,153.9 L161.8,155.2 L164.0,157.7 L167.4,160.3 L169.7,160.6 L170.3,161.7 L171.5,164.9 L173.4,167.8 L176.1,169.4 L178.1,170.6 L180.1,171.8 L181.0,171.9 L180.9,173.5 L181.3,175.9 L180.9,178.7 L180.5,182.4 L180.9,185.7 L181.5,187.0 L180.5,188.5 L180.0,188.1 L177.1,186.3 L174.1,187.3 L172.6,185.9 L171.2,182.9 L168.8,180.6 L167.1,176.3 L163.7,173.8 L162.1,170.6 L158.0,167.8 L154.8,167.8 L152.0,166.1 L149.1,167.0 L148.8,166.5 L149.0,164.6 L148.9,160.0 L146.8,155.8 L143.2,152.2 L139.5,150.4 L138.4,148.4 L137.4,146.4 L137.0,144.0 L138.0,143.5 L140.1,140.7 L140.7,137.2 L141.0,134.6 L141.3,131.1 L141.5,130.0Z"/><circle cx="141.6" cy="129.8" r="2.60"/><circle cx="142.4" cy="130.5" r="2.60"/><circle cx="144.9" cy="132.6" r="2.60"/><circle cx="145.4" cy="132.9" r="2.60"/><circle cx="144.3" cy="137.2" r="2.60"/><circle cx="148.0" cy="140.0" r="2.60"/><circle cx="149.9" cy="142.7" r="2.60"/><circle cx="152.9" cy="145.3" r="2.60"/><circle cx="154.1" cy="147.5" r="2.60"/><circle cx="154.8" cy="151.3" r="2.60"/><circle cx="159.0" cy="153.9" r="2.60"/><circle cx="161.8" cy="155.2" r="2.60"/><circle cx="164.0" cy="157.7" r="2.60"/><circle cx="167.4" cy="160.3" r="2.60"/><circle cx="169.7" cy="160.6" r="2.60"/><circle cx="170.3" cy="161.7" r="2.60"/><circle cx="171.5" cy="164.9" r="2.60"/><circle cx="173.4" cy="167.8" r="2.60"/><circle cx="176.1" cy="169.4" r="2.60"/><circle cx="178.1" cy="170.6" r="2.60"/><circle cx="180.1" cy="171.8" r="2.60"/><circle cx="181.0" cy="171.9" r="2.60"/><circle cx="180.9" cy="173.5" r="2.60"/><circle cx="181.3" cy="175.9" r="2.60"/><circle cx="180.9" cy="178.7" r="2.60"/><circle cx="180.5" cy="182.4" r="2.60"/><circle cx="180.9" cy="185.7" r="2.60"/><circle cx="181.5" cy="187.0" r="2.60"/><circle cx="180.5" cy="188.5" r="2.60"/><circle cx="180.0" cy="188.1" r="2.60"/><circle cx="177.1" cy="186.3" r="2.60"/><circle cx="174.1" cy="187.3" r="2.60"/><circle cx="172.6" cy="185.9" r="2.60"/><circle cx="171.2" cy="182.9" r="2.60"/><circle cx="168.8" cy="180.6" r="2.60"/><circle cx="167.1" cy="176.3" r="2.60"/><circle cx="163.7" cy="173.8" r="2.60"/><circle cx="162.1" cy="170.6" r="2.60"/><circle cx="158.0" cy="167.8" r="2.60"/><circle cx="154.8" cy="167.8" r="2.60"/><circle cx="152.0" cy="166.1" r="2.60"/><circle cx="149.1" cy="167.0" r="2.60"/><circle cx="148.8" cy="166.5" r="2.60"/><circle cx="149.0" cy="164.6" r="2.60"/><circle cx="148.9" cy="160.0" r="2.60"/><circle cx="146.8" cy="155.8" r="2.60"/><circle cx="143.2" cy="152.2" r="2.60"/><circle cx="139.5" cy="150.4" r="2.60"/><circle cx="138.4" cy="148.4" r="2.60"/><circle cx="137.4" cy="146.4" r="2.60"/><circle cx="137.0" cy="144.0" r="2.60"/><circle cx="138.0" cy="143.5" r="2.60"/><circle cx="140.1" cy="140.7" r="2.60"/><circle cx="140.7" cy="137.2" r="2.60"/><circle cx="141.0" cy="134.6" r="2.60"/><circle cx="141.3" cy="131.1" r="2.60"/><circle cx="141.5" cy="130.0" r="2.60"/></g>
<rect x="44.9" y="21.5" width="309.60" height="242.00" fill="none" stroke="#8a8a8a" stroke-width="1.6"/>
<path d="M98.50,263.5v-3.6M98.50,21.5v3.6M156.50,263.5v-3.6M156.50,21.5v3.6M214.50,263.5v-3.6M214.50,21.5v3.6M272.50,263.5v-3.6M272.50,21.5v3.6M330.50,263.5v-3.6M330.50,21.5v3.6M44.9,262.25h3.5M354.5,262.25h-3.7M44.9,235.20h3.5M354.5,235.20h-3.7M44.9,208.15h3.5M354.5,208.15h-3.7M44.9,181.10h3.5M354.5,181.10h-3.7M44.9,154.05h3.5M354.5,154.05h-3.7M44.9,127.00h3.5M354.5,127.00h-3.7M44.9,99.95h3.5M354.5,99.95h-3.7M44.9,72.90h3.5M354.5,72.90h-3.7M44.9,45.85h3.5M354.5,45.85h-3.7" stroke="#808080" stroke-width="1.25" fill="none"/>
<g font-size="12" fill="#262626" stroke="#262626"><text x="98.50" y="281.3" text-anchor="middle">- </text><text x="156.50" y="281.3" text-anchor="middle">-0.5</text><text x="214.50" y="281.3" text-anchor="middle">0</text><text x="272.50" y="281.3" text-anchor="middle">0.5</text><text x="330.50" y="281.3" text-anchor="middle"> </text><text x="39.4" y="267.25" text-anchor="end">- 2</text><text x="39.4" y="240.20" text-anchor="end">- 0</text><text x="39.4" y="213.15" text-anchor="end">-8</text><text x="39.4" y="186.10" text-anchor="end">-6</text><text x="39.4" y="159.05" text-anchor="end">-4</text><text x="39.4" y="132.00" text-anchor="end">-2</text><text x="39.4" y="104.95" text-anchor="end">0</text><text x="39.4" y="77.90" text-anchor="end">2</text><text x="39.4" y="50.85" text-anchor="end">4</text></g>
<path d="M46.6,12.6L52.5,18.0M52.5,12.6L46.6,18.0" stroke="#262626" stroke-width="0.9" fill="none"/>
<path d="M323.7,296.8L329.6,302.2M329.6,296.8L323.7,302.2" stroke="#262626" stroke-width="0.9" fill="none"/>
<g fill="#262626" stroke="#262626"><text x="55.5" y="18" font-size="11.5"> 0</text><text x="69.2" y="13.2" font-size="9">-5</text><text x="331.9" y="302.2" font-size="11.5"> 0</text><text x="344.9" y="297.8" font-size="9">-3</text></g>
<text x="199" y="299.9" font-size="13.2" text-anchor="middle" fill="#262626" stroke="#262626">PCA Component  </text>
<text transform="translate(15,143.3) rotate(-90)" font-size="13.2" text-anchor="middle" fill="#262626" stroke="#262626">PCA Component 2</text>
<rect x="210.1" y="184.2" width="133.75" height="61.25" fill="#fff" stroke="#8a8a8a" stroke-width="1.6"/><circle cx="225.5" cy="192.20" r="3.2" fill="#983a12" stroke="#85330f" stroke-width="0.7"/><text x="241.2" y="197.10" font-size="10.8" fill="#000" stroke="#000">Acetone (calibration)</text><circle cx="225.5" cy="206.90" r="3.2" fill="#be8d1b" stroke="#a77c17" stroke-width="0.7"/><text x="241.2" y="211.80" font-size="10.8" fill="#000" stroke="#000">Ethanol (calibration)</text><circle cx="225.5" cy="221.60" r="3.2" fill="#d95319" stroke="#be4916" stroke-width="0.7"/><text x="241.2" y="226.50" font-size="10.8" fill="#000" stroke="#000">Acetone (test)</text><circle cx="225.5" cy="236.30" r="3.2" fill="#edb120" stroke="#d09b1c" stroke-width="0.7"/><text x="241.2" y="241.20" font-size="10.8" fill="#000" stroke="#000">Ethanol (test)</text>
<path transform=" translate(97.15,281.30) scale(0.005859,-0.005859)" d="M763 0H583V1100Q518 1040 412 985T223 895V1060Q374 1130 487 1230T647 1409H763Z" fill="#262626" stroke="#262626" stroke-width="37.5"/><path transform=" translate(327.16,281.30) scale(0.005859,-0.005859)" d="M763 0H583V1100Q518 1040 412 985T223 895V1060Q374 1130 487 1230T647 1409H763Z" fill="#262626" stroke="#262626" stroke-width="37.5"/><path transform=" translate(26.04,267.25) scale(0.005859,-0.005859)" d="M763 0H583V1100Q518 1040 412 985T223 895V1060Q374 1130 487 1230T647 1409H763Z" fill="#262626" stroke="#262626" stroke-width="37.5"/><path transform=" translate(26.04,240.20) scale(0.005859,-0.005859)" d="M763 0H583V1100Q518 1040 412 985T223 895V1060Q374 1130 487 1230T647 1409H763Z" fill="#262626" stroke="#262626" stroke-width="37.5"/><path transform=" translate(55.50,18.00) scale(0.005615,-0.005615)" d="M763 0H583V1100Q518 1040 412 985T223 895V1060Q374 1130 487 1230T647 1409H763Z" fill="#262626" stroke="#262626" stroke-width="39.2"/><path transform=" translate(331.90,302.20) scale(0.005615,-0.005615)" d="M763 0H583V1100Q518 1040 412 985T223 895V1060Q374 1130 487 1230T647 1409H763Z" fill="#262626" stroke="#262626" stroke-width="39.2"/><path transform=" translate(246.27,299.90) scale(0.006445,-0.006445)" d="M763 0H583V1100Q518 1040 412 985T223 895V1060Q374 1130 487 1230T647 1409H763Z" fill="#262626" stroke="#262626" stroke-width="34.1"/>
</svg>
</body></html>
